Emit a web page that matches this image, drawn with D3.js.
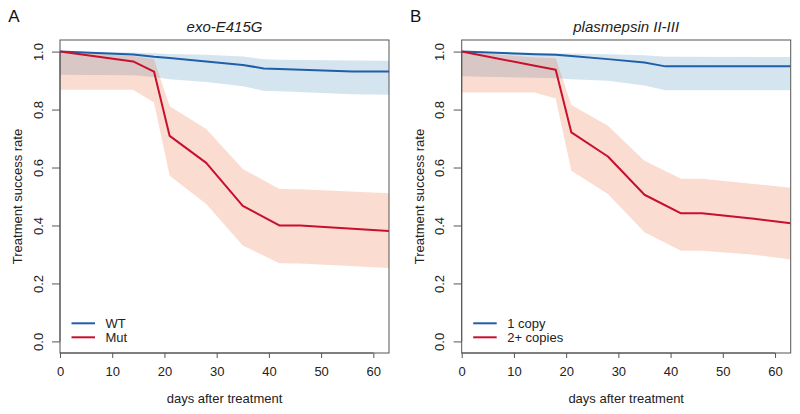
<!DOCTYPE html>
<html><head><meta charset="utf-8">
<script src="https://cdn.jsdelivr.net/npm/d3@7"></script>
<style>body{margin:0;background:#fff}svg{display:block;font-family:"Liberation Sans",Arial,sans-serif}</style>
</head><body>
<script>
// ---- Data ----
const titles = ["exo-E415G", "plasmepsin II-III"];
const panelLetters = ["A", "B"];
const legendLabels = [["WT", "Mut"], ["1 copy", "2+ copies"]];
const xTicks = [0, 10, 20, 30, 40, 50, 60];
const yTicks = [0, 0.2, 0.4, 0.6, 0.8, 1.0];

// Panel A – WT (blue)
const daysA_wt = [0, 14, 18, 21, 28, 35, 39, 42, 56, 63];
const wtA      = [1.0, 0.990, 0.982, 0.978, 0.966, 0.954, 0.942, 0.940, 0.931, 0.931];
const wtA_lo   = [0.920, 0.918, 0.912, 0.905, 0.895, 0.880, 0.865, 0.863, 0.853, 0.851];
const wtA_hi   = [1.0, 0.997, 0.994, 0.992, 0.989, 0.983, 0.974, 0.972, 0.969, 0.968];
// Panel A – Mut (red)
const daysA_mut = [0, 14, 18, 21, 28, 35, 42, 46, 63];
const mutA      = [1.0, 0.966, 0.931, 0.709, 0.616, 0.468, 0.400, 0.400, 0.381];
const mutA_lo   = [0.868, 0.868, 0.824, 0.572, 0.474, 0.331, 0.270, 0.269, 0.253];
const mutA_hi   = [1.0, 0.985, 0.974, 0.811, 0.733, 0.595, 0.526, 0.525, 0.511];

// Panel B – 1 copy (blue)
const daysB_wt = [0, 14, 18, 21, 28, 35, 39, 63];
const wtB      = [1.0, 0.991, 0.989, 0.985, 0.974, 0.962, 0.949, 0.949];
const wtB_lo   = [0.915, 0.910, 0.908, 0.905, 0.899, 0.883, 0.867, 0.867];
const wtB_hi   = [1.0, 0.996, 0.994, 0.993, 0.991, 0.987, 0.982, 0.981];
// Panel B – 2+ copies (red)
const daysB_mut = [0, 14, 18, 21, 28, 35, 42, 46, 56, 63];
const mutB      = [1.0, 0.951, 0.937, 0.721, 0.638, 0.506, 0.442, 0.442, 0.423, 0.408];
const mutB_lo   = [0.859, 0.859, 0.838, 0.589, 0.509, 0.377, 0.313, 0.313, 0.299, 0.283];
const mutB_hi   = [1.0, 0.980, 0.977, 0.816, 0.744, 0.623, 0.561, 0.561, 0.543, 0.530];

const panels = [
  {series: [
    {days: daysA_wt, v: wtA, lo: wtA_lo, hi: wtA_hi, line: "#1f5fa8", band: "#2c7bb6"},
    {days: daysA_mut, v: mutA, lo: mutA_lo, hi: mutA_hi, line: "#c8102e", band: "#e65014"}]},
  {series: [
    {days: daysB_wt, v: wtB, lo: wtB_lo, hi: wtB_hi, line: "#1f5fa8", band: "#2c7bb6"},
    {days: daysB_mut, v: mutB, lo: mutB_lo, hi: mutB_hi, line: "#c8102e", band: "#e65014"}]}
];

const W = 800, H = 414;
const svg = d3.select("body").append("svg").attr("width", W).attr("height", H);
const boxLeft = [60, 461.7], boxW = 329, boxTop = 40, boxBottom = 353;
const axisCol = "#555";

panels.forEach((p, i) => {
  const x0 = boxLeft[i];
  const x = d3.scaleLinear().domain([0, 63]).range([x0, x0 + boxW]);
  const y = d3.scaleLinear().domain([-0.04, 1.04]).range([boxBottom, boxTop]);
  const g = svg.append("g");

  const clipId = "clip" + i;
  g.append("clipPath").attr("id", clipId).append("rect")
    .attr("x", x0).attr("y", boxTop).attr("width", boxW).attr("height", boxBottom - boxTop);
  const plot = g.append("g").attr("clip-path", `url(#${clipId})`);

  p.series.forEach(s => {
    const pts = s.days.map((d, k) => ({d, v: s.v[k], lo: s.lo[k], hi: s.hi[k]}));
    plot.append("path").datum(pts)
      .attr("d", d3.area().x(q => x(q.d)).y0(q => y(q.lo)).y1(q => y(q.hi)))
      .attr("fill", s.band).attr("fill-opacity", 0.2);
  });
  p.series.forEach(s => {
    const pts = s.days.map((d, k) => ({d, v: s.v[k]}));
    plot.append("path").datum(pts)
      .attr("d", d3.line().x(q => x(q.d)).y(q => y(q.v)))
      .attr("fill", "none").attr("stroke", s.line).attr("stroke-width", 2)
      .attr("stroke-linejoin", "round");
  });

  // box
  g.append("rect").attr("x", x0).attr("y", boxTop).attr("width", boxW).attr("height", boxBottom - boxTop)
    .attr("fill", "none").attr("stroke", axisCol).attr("stroke-width", 1);

  // x axis
  const xa = g.append("g").attr("transform", `translate(0,${boxBottom})`)
    .call(d3.axisBottom(x).tickValues(xTicks).tickFormat(d3.format("d")).tickSize(5).tickPadding(9));
  xa.select(".domain").attr("stroke", axisCol).attr("d", `M${x(0)},0H${x(60)}`);
  xa.selectAll(".tick line").attr("stroke", axisCol);
  xa.selectAll("text").attr("font-size", 13).attr("fill", "#222")
    .attr("font-family", "'Liberation Sans',Arial,sans-serif");

  // y axis
  const ya = g.append("g").attr("transform", `translate(${x0},0)`)
    .call(d3.axisLeft(y).tickValues(yTicks).tickFormat(d3.format(".1f")).tickSize(8).tickPadding(0));
  ya.select(".domain").attr("stroke", axisCol).attr("d", `M0,${y(0)}V${y(1)}`);
  ya.selectAll(".tick line").attr("stroke", axisCol);
  ya.selectAll(".tick text").attr("font-size", 13).attr("fill", "#222")
    .attr("font-family", "'Liberation Sans',Arial,sans-serif")
    .attr("text-anchor", "middle").attr("x", 0).attr("dy", 0)
    .attr("transform", "translate(-22,0) rotate(-90)")
    .attr("dominant-baseline", "central");

  // titles
  g.append("text").attr("x", x0 + boxW / 2).attr("y", 32).attr("text-anchor", "middle")
    .attr("font-size", 15).attr("font-style", "italic").attr("fill", "#222").text(titles[i]);
  g.append("text").attr("x", x0 - 46).attr("y", 22).attr("text-anchor", "middle")
    .attr("font-size", 17).attr("fill", "#111").text(panelLetters[i]);
  g.append("text").attr("x", x0 + boxW / 2).attr("y", 403).attr("text-anchor", "middle")
    .attr("font-size", 13).attr("fill", "#222").text("days after treatment");
  g.append("text").attr("transform", `translate(${x0 - 38},${(y(0) + y(1)) / 2}) rotate(-90)`)
    .attr("text-anchor", "middle").attr("font-size", 13).attr("fill", "#222")
    .text("Treatment success rate");

  // legend
  const lg = g.append("g");
  legendLabels[i].forEach((lab, k) => {
    const ly = 323.3 + k * 14;
    lg.append("line").attr("x1", x0 + 11.5).attr("x2", x0 + 35).attr("y1", ly).attr("y2", ly)
      .attr("stroke", p.series[k].line).attr("stroke-width", 2);
    lg.append("text").attr("x", x0 + 45.5).attr("y", ly).attr("dominant-baseline", "central")
      .attr("font-size", 13).attr("fill", "#222").text(lab);
  });
});
</script>
</body></html>
